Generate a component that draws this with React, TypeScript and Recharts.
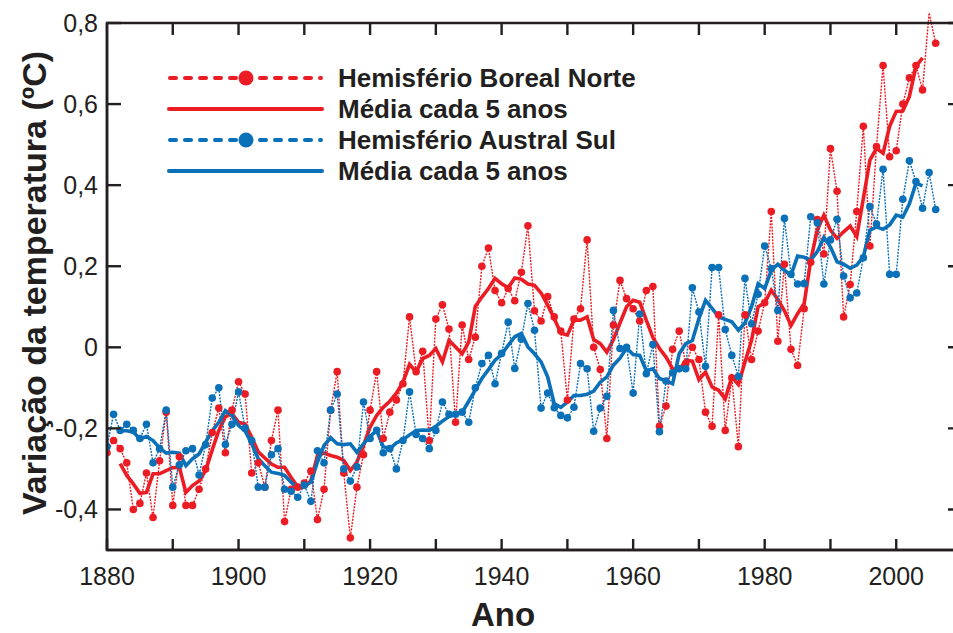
import React from 'react';
import { LineChart, Line, XAxis, YAxis } from 'recharts';

const RED = '#ec1c24';
const BLUE = '#0a70b8';
const INK = '#231f20';
const FONT = "'Liberation Sans', Arial, Helvetica, sans-serif";

// annual anomalies start in 1880, the 5-year means in 1882
const FIRST_YEAR = 1880;
const MEAN_START = 1882;

const northAnnual = [
  -0.26, -0.23, -0.25, -0.285, -0.4, -0.385, -0.31, -0.42, -0.28, -0.16,
  -0.39, -0.27, -0.39, -0.39, -0.35, -0.3, -0.21, -0.15, -0.26, -0.155,
  -0.085, -0.115, -0.31, -0.285, -0.345, -0.23, -0.155, -0.43, -0.35, -0.345,
  -0.335, -0.305, -0.425, -0.35, -0.155, -0.06, -0.31, -0.47, -0.345, -0.265,
  -0.155, -0.06, -0.225, -0.16, -0.13, -0.09, 0.075, -0.06, -0.01, -0.23,
  0.07, 0.105, 0.045, -0.185, 0.055, -0.03, 0.025, 0.2, 0.245, 0.14,
  0.11, 0.145, 0.115, 0.185, 0.3, 0.09, 0.065, 0.125, 0.075, 0.04,
  -0.13, 0.07, 0.095, 0.265, 0.0, -0.055, -0.225, 0.055, 0.165, 0.12,
  0.095, 0.065, 0.14, 0.15, -0.195, -0.145, -0.005, 0.04, -0.04, 0.0,
  -0.03, -0.16, -0.195, 0.08, -0.205, -0.075, -0.245, 0.08, -0.03, 0.04,
  0.11, 0.335, 0.015, 0.205, -0.005, -0.045, 0.095, 0.21, 0.315, 0.23,
  0.49, 0.385, 0.075, 0.155, 0.335, 0.545, 0.25, 0.495, 0.695, 0.47,
  0.485, 0.6, 0.665, 0.695, 0.635, 0.825, 0.75,
];

const southAnnual = [
  -0.245, -0.165, -0.205, -0.19, -0.205, -0.225, -0.19, -0.285, -0.25, -0.155,
  -0.345, -0.29, -0.255, -0.25, -0.315, -0.24, -0.125, -0.1, -0.24, -0.19,
  -0.11, -0.2, -0.23, -0.345, -0.345, -0.265, -0.25, -0.35, -0.355, -0.37,
  -0.34, -0.38, -0.255, -0.285, -0.155, -0.115, -0.3, -0.33, -0.295, -0.135,
  -0.225, -0.205, -0.26, -0.25, -0.3, -0.23, -0.11, -0.215, -0.225, -0.25,
  -0.205, -0.135, -0.165, -0.165, -0.16, -0.185, -0.1, -0.04, -0.02, -0.09,
  -0.015, 0.062, -0.052, 0.02, 0.108, 0.042, -0.15, -0.113, -0.149, -0.168,
  -0.174, -0.148, -0.04, -0.053, -0.207, -0.15, -0.121, 0.091, -0.003, 0.0,
  -0.113, 0.082, -0.065, 0.007, -0.208, -0.083, -0.063, -0.053, -0.053, 0.147,
  0.087, -0.047, 0.197, 0.197, 0.044, -0.02, -0.072, 0.17, 0.058, 0.131,
  0.25, 0.194, 0.091, 0.318, 0.18, 0.156, 0.157, 0.322, 0.307, 0.156,
  0.265, 0.316, 0.176, 0.122, 0.134, 0.221, 0.347, 0.304, 0.439, 0.18,
  0.18, 0.365, 0.46, 0.409, 0.343, 0.431, 0.34,
];

const northMean = [
  -0.287, -0.316, -0.337, -0.36, -0.358, -0.312, -0.312, -0.304,
  -0.297, -0.296, -0.358, -0.341, -0.33, -0.304, -0.253, -0.205, -0.171, -0.164,
  -0.185, -0.189, -0.222, -0.258, -0.273, -0.288, -0.296, -0.296, -0.321, -0.344,
  -0.345, -0.329, -0.267, -0.261, -0.267, -0.271, -0.279, -0.304, -0.283, -0.242,
  -0.197, -0.168, -0.148, -0.133, -0.113, -0.086, -0.042, -0.061, -0.028, -0.02,
  -0.003, -0.036, 0.017, 0.001, -0.016, 0.013, 0.101, 0.124, 0.145, 0.17,
  0.157, 0.147, 0.171, 0.168, 0.156, 0.153, 0.134, 0.104, 0.071, 0.035,
  0.03, 0.067, 0.067, 0.075, 0.019, 0.009, -0.012, 0.019, 0.06, 0.1,
  0.116, 0.111, 0.067, 0.024, -0.003, -0.024, -0.053, -0.057, -0.032, -0.034,
  -0.08, -0.061, -0.098, -0.106, -0.127, -0.073, -0.092, -0.036, 0.017, 0.1,
  0.11, 0.141, 0.118, 0.09, 0.054, 0.083, 0.108, 0.215, 0.289, 0.326,
  0.289, 0.269, 0.285, 0.299, 0.273, 0.367, 0.462, 0.491, 0.479, 0.545,
  0.582, 0.583, 0.619, 0.693, 0.714,
];

const southMean = [
  -0.206, -0.206, -0.209, -0.226, -0.22, -0.23, -0.248, -0.261,
  -0.259, -0.261, -0.292, -0.275, -0.263, -0.234, -0.206, -0.185, -0.156, -0.168,
  -0.193, -0.206, -0.238, -0.275, -0.292, -0.308, -0.311, -0.316, -0.333, -0.347,
  -0.341, -0.333, -0.283, -0.242, -0.223, -0.238, -0.24, -0.238, -0.259, -0.238,
  -0.22, -0.205, -0.245, -0.25, -0.236, -0.228, -0.216, -0.205, -0.204, -0.205,
  -0.195, -0.182, -0.171, -0.166, -0.16, -0.133, -0.105, -0.077, -0.055, -0.032,
  -0.017, 0.005, 0.026, 0.034, 0.001, -0.016, -0.036, -0.073, -0.139, -0.148,
  -0.135, -0.119, -0.119, -0.116, -0.108, -0.086, -0.073, -0.044, -0.027, -0.002,
  -0.018, -0.02, -0.058, -0.053, -0.077, -0.083, -0.09, -0.016, 0.009, 0.017,
  0.071, 0.116, 0.096, 0.075, 0.069, 0.063, 0.042, 0.06, 0.1, 0.157,
  0.145, 0.19, 0.205, 0.19, 0.178, 0.225, 0.222, 0.215, 0.236, 0.271,
  0.248, 0.211, 0.205, 0.195, 0.203, 0.223, 0.289, 0.297, 0.291, 0.302,
  0.326, 0.321, 0.354, 0.405, 0.398,
];

const decadeTicks = [1880, 1890, 1900, 1910, 1920, 1930, 1940, 1950, 1960, 1970, 1980, 1990, 2000];
const tempTicks = [-0.4, -0.2, 0, 0.2, 0.4, 0.6, 0.8];

const legendItems = [
  { label: 'Hemisfério Boreal Norte', color: RED, annual: true },
  { label: 'Média cada 5 anos', color: RED, annual: false },
  { label: 'Hemisfério Austral Sul', color: BLUE, annual: true },
  { label: 'Média cada 5 anos', color: BLUE, annual: false },
];

const data = northAnnual.map((nh, i) => {
  const year = FIRST_YEAR + i;
  const m = year - MEAN_START;
  return {
    year,
    nh,
    sh: southAnnual[i],
    nhMean: m >= 0 && m < northMean.length ? northMean[m] : null,
    shMean: m >= 0 && m < southMean.length ? southMean[m] : null,
  };
});

const fmtTemp = (v: number) => (v === 0 ? '0' : v.toFixed(1).replace('.', ','));

// chart geometry; the frame's right edge runs just past the page
const CHART_W = 1000;
const CHART_H = 633;
const MARGIN = { top: 23, right: 38, bottom: 82, left: 47 };
const Y_AXIS_W = 60;
const X_AXIS_H = 1;
const X_DOMAIN = [1880, 2010];
const Y_DOMAIN = [-0.5, 0.8];
const PLOT_LEFT = MARGIN.left + Y_AXIS_W;
const PLOT_TOP = MARGIN.top;
const PLOT_W = CHART_W - PLOT_LEFT - MARGIN.right;
const PLOT_H = CHART_H - MARGIN.top - MARGIN.bottom - X_AXIS_H;

// top and right edges of the box, with the same tick spacing as the axes
const frameX = (year: number) => PLOT_LEFT + ((year - X_DOMAIN[0]) / (X_DOMAIN[1] - X_DOMAIN[0])) * PLOT_W;
const frameY = (v: number) => PLOT_TOP + ((Y_DOMAIN[1] - v) / (Y_DOMAIN[1] - Y_DOMAIN[0])) * PLOT_H;

const frameTicks =
  decadeTicks.slice(1).map((d) => `M${frameX(d)},${PLOT_TOP}v12`).join('') +
  tempTicks.map((v) => `M${PLOT_LEFT + PLOT_W},${frameY(v)}h-14`).join('');

// ticks point into the plot, labels sit outside
const BottomTick = ({ x, y, payload }: any) => (
  <g>
    <path d={`M${x},${y}v-11`} stroke={INK} strokeWidth={2.4} />
    {payload.value % 20 === 0 && (
      <text x={x} y={y + 35} textAnchor="middle" fontSize={25} fontFamily={FONT} fill={INK}>
        {payload.value}
      </text>
    )}
  </g>
);

const LeftTick = ({ x, y, payload }: any) => (
  <g>
    <path d={`M${x},${y}h14`} stroke={INK} strokeWidth={2.4} />
    <text x={x - 9} y={y + 9} textAnchor="end" fontSize={25} fontFamily={FONT} fill={INK}>
      {fmtTemp(payload.value)}
    </text>
  </g>
);

const axisLine = { stroke: INK, strokeWidth: 2.5 };

// the 2005 value pokes out above the 0,8 frame, so the series are not clipped
const unclip = `.temp-chart .recharts-line, .temp-chart .recharts-line * { clip-path: none !important; }`;

const Overlay = () => (
  <svg width={953} height={633} style={{ position: 'absolute', left: 0, top: 0, pointerEvents: 'none' }}>
    <rect x={PLOT_LEFT} y={PLOT_TOP} width={PLOT_W} height={PLOT_H} fill="none" stroke={INK} strokeWidth={2.5} />
    <path d={frameTicks} fill="none" stroke={INK} strokeWidth={2.4} />
    <text
      transform="translate(46,283) rotate(-90)"
      textAnchor="middle"
      fontSize={34}
      fontWeight="bold"
      fontFamily={FONT}
      fill={INK}
    >
      Variação da temperatura (ºC)
    </text>
    <text x={503} y={626} textAnchor="middle" fontSize={33} fontWeight="bold" fontFamily={FONT} fill={INK}>
      Ano
    </text>
    {legendItems.map((item, i) => {
      const cy = 78 + i * 31;
      return (
        <g key={i}>
          {item.annual ? (
            <>
              <line x1={170} x2={321} y1={cy} y2={cy} stroke={item.color} strokeWidth={4}
                strokeDasharray="6 9" strokeLinecap="round" />
              <circle cx={246} cy={cy} r={7.5} fill={item.color} />
            </>
          ) : (
            <line x1={169} x2={322} y1={cy} y2={cy} stroke={item.color} strokeWidth={4} strokeLinecap="round" />
          )}
          <text x={338} y={cy + 9} fontSize={26} fontWeight="bold" fontFamily={FONT} fill={INK}>
            {item.label}
          </text>
        </g>
      );
    })}
  </svg>
);

export default function App() {
  return (
    <div
      className="temp-chart"
      style={{ position: 'fixed', left: 0, top: 0, width: 953, height: 633, overflow: 'hidden', background: '#fff' }}
    >
      <style>{unclip}</style>
      <LineChart width={CHART_W} height={CHART_H} data={data} margin={MARGIN}>
        <XAxis
          dataKey="year"
          type="number"
          domain={X_DOMAIN}
          ticks={decadeTicks}
          height={X_AXIS_H}
          tickSize={0}
          tickMargin={0}
          tick={BottomTick}
          tickLine={false}
          axisLine={axisLine}
          allowDataOverflow
        />
        <YAxis
          type="number"
          domain={Y_DOMAIN}
          ticks={tempTicks}
          width={Y_AXIS_W}
          tickSize={0}
          tickMargin={0}
          tick={LeftTick}
          tickLine={false}
          axisLine={axisLine}
          allowDataOverflow
        />
        <Line
          dataKey="nh"
          stroke={RED}
          strokeWidth={1.4}
          strokeDasharray="2 1.2"
          dot={{ r: 3.8, fill: RED, stroke: 'none' }}
          activeDot={false}
          isAnimationActive={false}
        />
        <Line
          dataKey="nhMean"
          stroke={RED}
          strokeWidth={3.6}
          dot={false}
          activeDot={false}
          isAnimationActive={false}
        />
        <Line
          dataKey="sh"
          stroke={BLUE}
          strokeWidth={1.4}
          strokeDasharray="2 1.2"
          dot={{ r: 3.8, fill: BLUE, stroke: 'none' }}
          activeDot={false}
          isAnimationActive={false}
        />
        <Line
          dataKey="shMean"
          stroke={BLUE}
          strokeWidth={3.6}
          dot={false}
          activeDot={false}
          isAnimationActive={false}
        />
      </LineChart>
      <Overlay />
    </div>
  );
}
